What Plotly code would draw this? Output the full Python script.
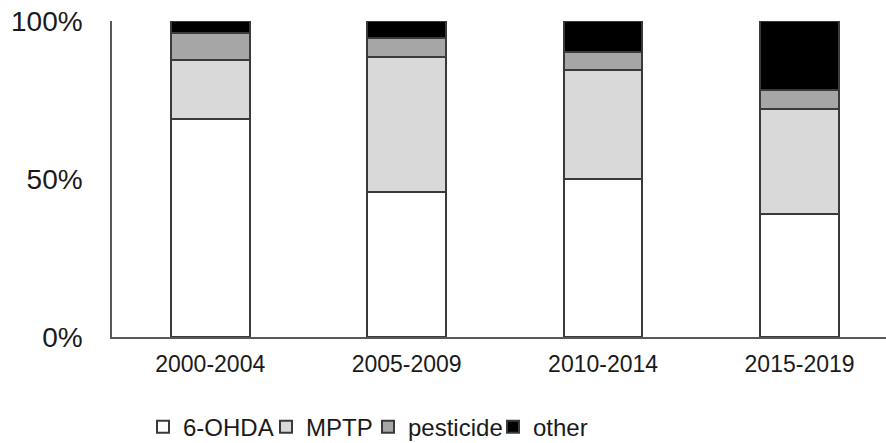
import plotly.graph_objects as go

periods = ["2000-2004", "2005-2009", "2010-2014", "2015-2019"]
ohda = [69.0, 45.8, 50.0, 38.8]
mptp = [18.8, 42.9, 34.5, 33.4]
pesticide = [8.4, 6.0, 5.6, 6.0]
other = [3.8, 5.3, 9.9, 21.8]

series = [
    ("6-OHDA", ohda, "#ffffff", 78),
    ("MPTP", mptp, "#d9d9d9", 57),
    ("pesticide", pesticide, "#a6a6a6", 80),
    ("other", other, "#000000", 60),
]

fig = go.Figure()
for name, vals, color, lw in series:
    fig.add_trace(go.Bar(
        x=periods, y=vals, name=name, width=0.40,
        marker=dict(color=color, line=dict(color="#3a3a3a", width=2)),
        legendwidth=lw,
    ))

font_family = "Liberation Sans, Arial, sans-serif"
fig.update_layout(
    barmode="stack",
    width=886, height=443,
    margin=dict(l=112, r=0, t=21, b=106, autoexpand=False),
    paper_bgcolor="white", plot_bgcolor="white",
    font=dict(family=font_family, color="#1a1a1a"),
    showlegend=True,
    legend=dict(orientation="h", xref="container", yref="container",
                x=0.1614, xanchor="left", y=0.036, yanchor="middle",
                font=dict(size=24, color="#1a1a1a"), itemclick=False,
                bgcolor="rgba(0,0,0,0)", traceorder="normal"),
    xaxis=dict(range=[-0.5, 3.44], showline=True, linecolor="#595959", linewidth=1.5,
               ticks="", showgrid=False, zeroline=False, automargin=False,
               tickfont=dict(size=23, color="#1a1a1a"), ticklabelstandoff=6),
    yaxis=dict(range=[0, 100], tickvals=[0, 50, 100], ticktext=["0%", "50%", "100%"],
               showline=True, linecolor="#595959", linewidth=1.5, ticks="",
               showgrid=False, zeroline=False, automargin=False,
               tickfont=dict(size=28, color="#1a1a1a"), ticklabelstandoff=22),
)

fig.write_html("out.html", config={"displayModeBar": False},
               post_script="document.body.style.margin='0';")
